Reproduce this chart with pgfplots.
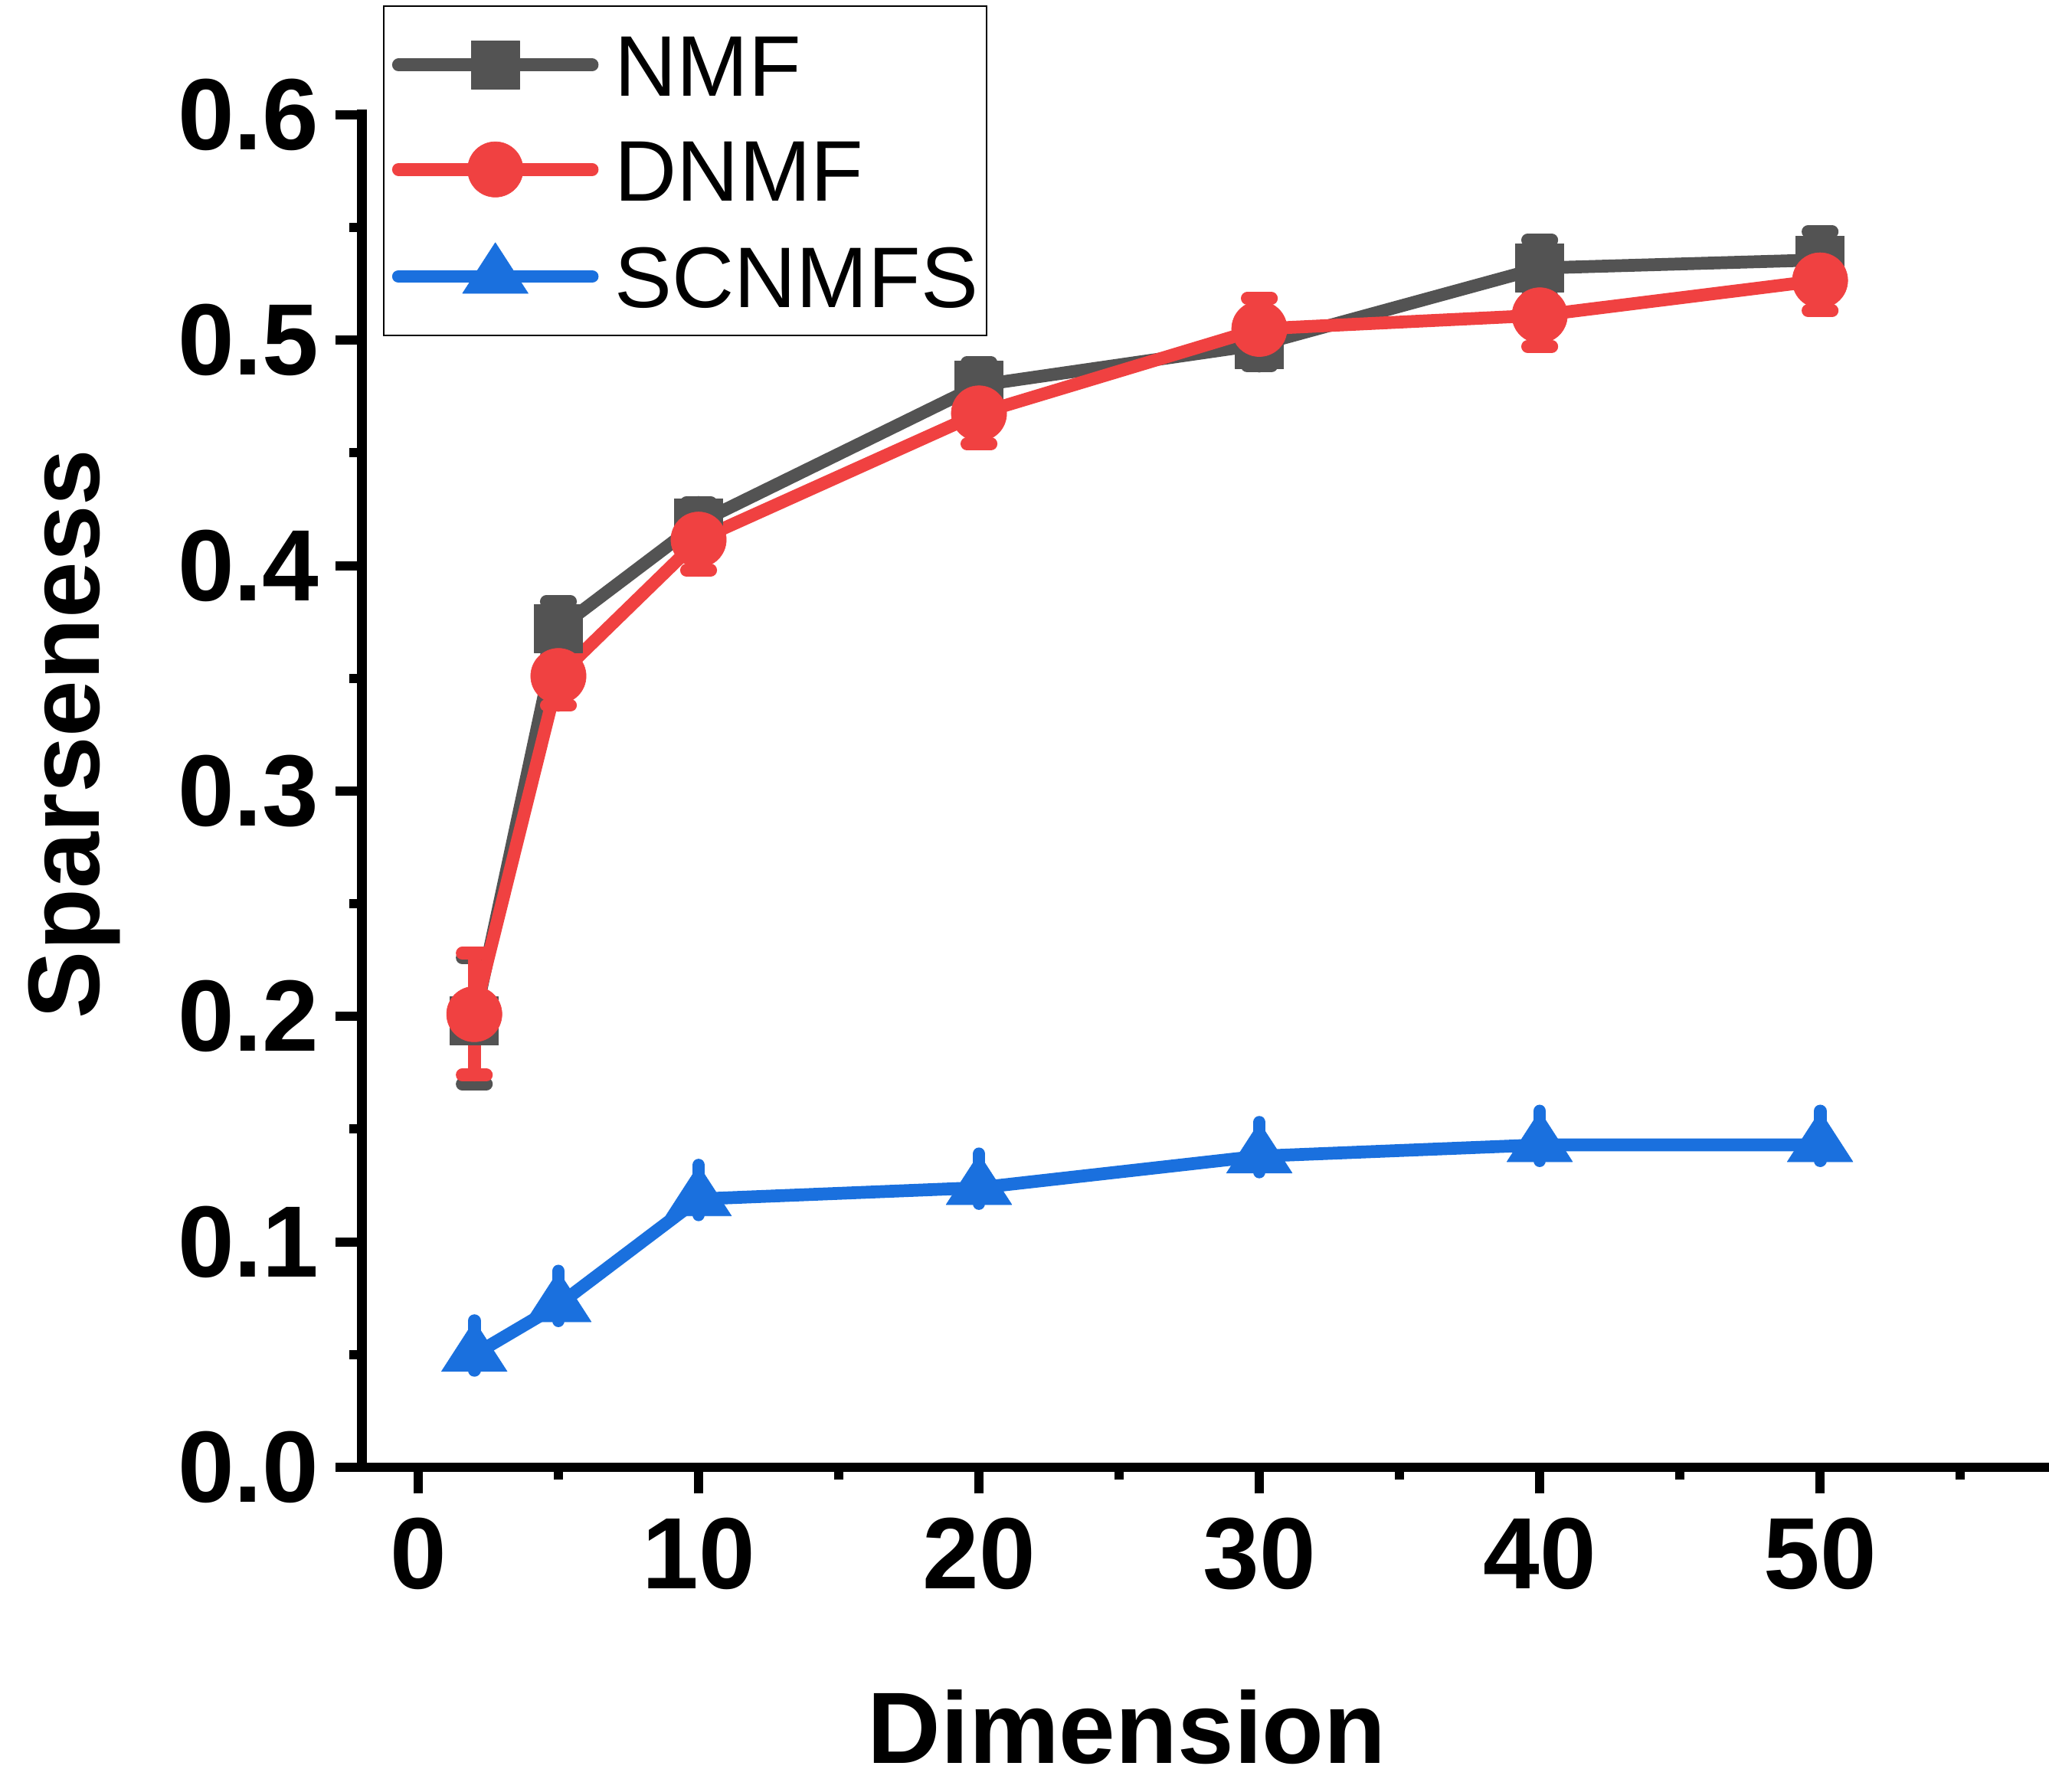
\documentclass[border=0pt]{standalone}
\usepackage{fontspec}
\setmainfont{Liberation Sans}
\usepackage{pgfplots}
\pgfplotsset{compat=1.18}
\definecolor{cgray}{RGB}{83,83,83}
\definecolor{cred}{RGB}{240,65,65}
\definecolor{cblue}{RGB}{26,112,222}
\begin{document}
\begin{tikzpicture}
\useasboundingbox (-70.7pt,-63.4pt) rectangle (329.3pt,286.5pt);
\begin{axis}[
  at={(0pt,0pt)}, anchor=south west,
  scale only axis, width=328.4pt, height=264.1pt,
  xmin=-2, xmax=58, ymin=0, ymax=0.6,
  axis x line=bottom, axis y line=left,
  axis line style={-},
  x axis line style={-, line width=1.9pt, shorten <=-5.2pt, shorten >=-1.5pt},
  y axis line style={-, line width=1.9pt, shorten >=-0.95pt},
  tick align=outside,
  major tick length=5.15pt, minor tick length=2.45pt,
  tick style={black, line width=1.8pt},
  xtick={0,10,20,30,40,50}, ytick={0,0.1,0.2,0.3,0.4,0.5,0.6},
  minor xtick={5,15,25,35,45,55}, minor y tick num=1,
  /pgf/number format/assume math mode=true,
  ticklabel style={font=\bfseries\fontsize{19.8}{22}\selectfont},
  yticklabel style={/pgf/number format/.cd, fixed, fixed zerofill, precision=1, /tikz/.cd, inner xsep=3.1pt},
  xticklabel style={inner ysep=4.6pt},
  xlabel={Dimension}, ylabel={Sparseness},
  label style={font=\bfseries\fontsize{19.8}{22}\selectfont},
  xlabel style={at={(axis description cs:0.4546,-0.219)}, anchor=base},
  ylabel style={at={(axis description cs:-0.1562,0.5422)}, anchor=base},
  legend style={
    at={(axis description cs:0.0124,1.0810)}, anchor=north west,
    draw=black, line width=0.35pt, fill=white,
    font=\fontsize{16.8}{19}\selectfont,
    inner xsep=1.6pt, inner ysep=5.4pt,
    row sep=8.2pt,
    nodes={inner sep=0pt, text height=12.2pt, text depth=0pt},
    /tikz/every odd column/.append style={column sep=3.2pt},
    cells={anchor=west},
  },
  legend image code/.code={
    \draw[mark repeat=2,mark phase=2,#1] plot coordinates {(0.4pt,0pt)(19.3pt,0pt)(38.2pt,0pt)};
  },
]
\addplot[color=cgray, line width=2.5pt, line join=round, line cap=round,
  mark=square*, mark size=4.71pt, mark options={line width=0.1pt, fill=cgray},
  error bars/.cd, y dir=both, y explicit, error mark=|,
  error bar style={line width=2.5pt, line cap=round, cgray},
  error mark options={line width=2.5pt, line cap=round, mark size=2.35pt, cgray}]
coordinates {
 (2,0.198) +- (0,0.028)
 (5,0.372) +- (0,0.012)
 (10,0.419) +- (0,0.009)
 (20,0.480) +- (0,0.010)
 (30,0.498) +- (0,0.0095)
 (40,0.532) +- (0,0.0124)
 (50,0.5356) +- (0,0.0125)
};
\addlegendentry{NMF}
\addplot[color=cred, line width=2.5pt, line join=round, line cap=round,
  mark=*, mark size=5.4pt, mark options={line width=0.1pt, fill=cred},
  error bars/.cd, y dir=both, y explicit, error mark=|,
  error bar style={line width=2.5pt, line cap=round, cred},
  error mark options={line width=2.5pt, line cap=round, mark size=2.35pt, cred}]
coordinates {
 (2,0.201) +- (0,0.027)
 (5,0.351) +- (0,0.013)
 (10,0.4115) +- (0,0.0136)
 (20,0.4675) +- (0,0.0135)
 (30,0.505) +- (0,0.0135)
 (40,0.511) +- (0,0.0138)
 (50,0.5265) +- (0,0.0134)
};
\addlegendentry{DNMF}
\addplot[color=cblue, line width=2.5pt, line join=round, line cap=round,
  mark=triangle*, mark size=6.6pt, mark options={xscale=1.12, line width=0.1pt, fill=cblue},
  error bars/.cd, y dir=both, y explicit, error mark=none,
  error bar style={line width=2.5pt, line cap=round, cblue}]
coordinates {
 (2,0.050) += (0,0.015) -= (0,0.007)
 (5,0.072) += (0,0.015) -= (0,0.007)
 (10,0.119) += (0,0.015) -= (0,0.007)
 (20,0.124) += (0,0.015) -= (0,0.007)
 (30,0.138) += (0,0.015) -= (0,0.007)
 (40,0.143) += (0,0.015) -= (0,0.007)
 (50,0.143) += (0,0.015) -= (0,0.007)
};
\addlegendentry{SCNMFS}
\end{axis}
\end{tikzpicture}
\end{document}
